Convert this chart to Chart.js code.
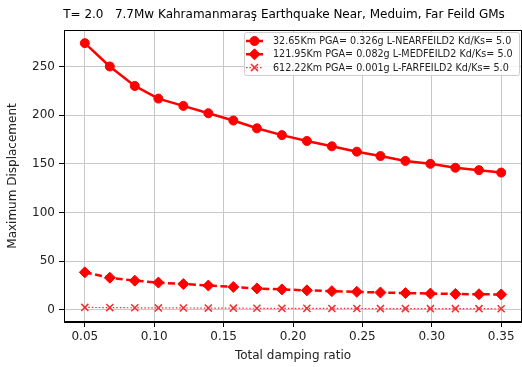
<!DOCTYPE html>
<html>
<head>
<meta charset="utf-8">
<script src="https://cdn.jsdelivr.net/npm/chart.js@4.4.0/dist/chart.umd.min.js"></script>
<style>
    html, body { margin: 0; padding: 0; background: #fff; }
    #wrap { width: 522px; height: 367px; }
</style>
</head>
<body>
<div id="wrap"><canvas id="myChart"></canvas></div>
<script>
var titleText = 'T= 2.0   7.7Mw Kahramanmaraş Earthquake Near, Meduim, Far Feild GMs';
var xLabel = 'Total damping ratio';
var yLabel = 'Maximum Displacement';

var dampingRatio = [0.050, 0.068, 0.086, 0.103, 0.121, 0.139, 0.157, 0.174, 0.192,
    0.210, 0.228, 0.246, 0.263, 0.281, 0.299, 0.317, 0.334, 0.350];
var nearField = [274, 250, 230, 217, 209.5, 202, 194.5, 186.5, 179.5,
    173.5, 168, 162.5, 158, 153, 150, 146, 143.5, 141];
var medField = [38.5, 33, 30, 28, 26.5, 25, 23.5, 22, 21,
    20, 19.2, 18.5, 17.8, 17.2, 16.7, 16.3, 16, 15.8];
var farField = [2.5, 2.3, 2.1, 2.0, 1.9, 1.8, 1.7, 1.6, 1.5,
    1.5, 1.4, 1.4, 1.3, 1.3, 1.2, 1.2, 1.2, 1.1];
var seriesLabels = [
    '32.65Km PGA= 0.326g L-NEARFEILD2 Kd/Ks= 5.0',
    '121.95Km PGA= 0.082g L-MEDFEILD2 Kd/Ks= 5.0',
    '612.22Km PGA= 0.001g L-FARFEILD2 Kd/Ks= 5.0'
];
var xTicks = [0.05, 0.10, 0.15, 0.20, 0.25, 0.30, 0.35];
var yTicks = [0, 50, 100, 150, 200, 250];

var FONT = 'DejaVu Sans';

function toPoints(ys) {
    return dampingRatio.map(function (x, i) { return { x: x, y: ys[i] }; });
}

// frame around the axes + title over the plot area
var framePlugin = {
    id: 'frame',
    beforeDatasetsDraw: function (chart) {
        var a = chart.chartArea, ctx = chart.ctx;
        ctx.save();
        ctx.strokeStyle = '#000';
        ctx.lineWidth = 1;
        ctx.strokeRect(a.left + 0.5, a.top + 0.5, a.right - a.left - 1, a.bottom - a.top - 1);
        ctx.restore();
    },
    afterDraw: function (chart) {
        var ctx = chart.ctx;
        ctx.save();
        ctx.fillStyle = '#000';
        ctx.font = '12px "' + FONT + '"';
        ctx.textAlign = 'center';
        ctx.textBaseline = 'middle';
        ctx.fillText(titleText, 284, 15);
        ctx.restore();
    }
};

// matplotlib style legend box in the upper right
var legendPlugin = {
    id: 'boxLegend',
    afterDraw: function (chart) {
        var ctx = chart.ctx;
        var x0 = 244, y0 = 32, w = 275, h = 43;
        ctx.save();
        ctx.fillStyle = 'rgba(255,255,255,0.8)';
        ctx.strokeStyle = '#cccccc';
        ctx.lineWidth = 1;
        ctx.beginPath();
        ctx.roundRect(x0 + 0.5, y0 + 0.5, w, h, 2);
        ctx.fill();
        ctx.stroke();
        ctx.font = '9.6px "' + FONT + '"';
        ctx.textBaseline = 'middle';
        chart.data.datasets.forEach(function (ds, i) {
            var y = 41 + i * 13.3;
            ctx.save();
            ctx.strokeStyle = ds.borderColor;
            ctx.lineWidth = ds.borderWidth;
            ctx.setLineDash(ds.borderDash || []);
            ctx.beginPath();
            ctx.moveTo(246, y);
            ctx.lineTo(263, y);
            ctx.stroke();
            ctx.restore();
            ctx.save();
            ctx.fillStyle = ds.backgroundColor;
            ctx.strokeStyle = ds.borderColor;
            ctx.lineWidth = ds.pointBorderWidth;
            Chart.helpers.drawPoint(ctx, {
                pointStyle: ds.pointStyle,
                radius: ds.pointRadius,
                rotation: 0,
                borderWidth: ds.pointBorderWidth
            }, 254.5, y);
            ctx.restore();
            ctx.fillStyle = '#222';
            ctx.fillText(ds.label, 273, y + 0.5);
        });
        ctx.restore();
    }
};

var ctx = document.getElementById('myChart').getContext('2d');
var myChart = new Chart(ctx, {
    type: 'line',
    data: {
        datasets: [{
            label: seriesLabels[0],
            data: toPoints(nearField),
            borderColor: '#ff0000',
            backgroundColor: '#ff0000',
            borderWidth: 2.5,
            pointStyle: 'circle',
            pointRadius: 4.5,
            pointBorderWidth: 1
        }, {
            label: seriesLabels[1],
            data: toPoints(medField),
            borderColor: '#ff0000',
            backgroundColor: '#ff0000',
            borderWidth: 2.5,
            borderDash: [7, 3.5],
            pointStyle: 'rectRot',
            pointRadius: 5.5,
            pointBorderWidth: 1
        }, {
            label: seriesLabels[2],
            data: toPoints(farField),
            borderColor: '#f03030',
            backgroundColor: '#f03030',
            borderWidth: 1.2,
            borderDash: [1.5, 2],
            pointStyle: 'crossRot',
            pointRadius: 5,
            pointBorderWidth: 1.5
        }]
    },
    options: {
        animation: false,
        responsive: true,
        maintainAspectRatio: false,
        layout: {
            autoPadding: false,
            padding: { top: 30, right: 0, bottom: 0, left: 0 }
        },
        plugins: {
            legend: { display: false },
            title: { display: false },
            tooltip: { enabled: false }
        },
        elements: { line: { tension: 0 } },
        scales: {
            x: {
                type: 'linear',
                min: 0.035,
                max: 0.365,
                afterBuildTicks: function (axis) {
                    axis.ticks = xTicks.map(function (v) { return { value: v }; });
                },
                afterFit: function (axis) {
                    axis.height = 45;
                    axis.paddingLeft = 0;
                    axis.paddingRight = 0;
                },
                grid: { color: '#c8c8c8', lineWidth: 1, tickColor: '#000', tickLength: 5 },
                border: { color: '#000', width: 1 },
                ticks: {
                    autoSkip: false,
                    maxRotation: 0,
                    padding: 3,
                    color: '#222',
                    font: { family: FONT, size: 12 },
                    callback: function (v) { return v.toFixed(2); }
                },
                title: {
                    display: true,
                    text: xLabel,
                    color: '#222',
                    font: { family: FONT, size: 12 },
                    padding: { top: 0, bottom: 4 }
                }
            },
            y: {
                type: 'linear',
                min: -12.5,
                max: 287.5,
                afterBuildTicks: function (axis) {
                    axis.ticks = yTicks.map(function (v) { return { value: v }; });
                },
                afterFit: function (axis) {
                    axis.width = 64;
                    axis.paddingTop = 0;
                    axis.paddingBottom = 0;
                },
                grid: { color: '#c8c8c8', lineWidth: 1, tickColor: '#000', tickLength: 5 },
                border: { color: '#000', width: 1 },
                ticks: {
                    autoSkip: false,
                    padding: 4,
                    color: '#222',
                    font: { family: FONT, size: 12 }
                },
                title: {
                    display: true,
                    text: yLabel,
                    color: '#222',
                    font: { family: FONT, size: 12 },
                    padding: { top: 6, bottom: 0 }
                }
            }
        }
    },
    plugins: [framePlugin, legendPlugin]
});
</script>
</body>
</html>
